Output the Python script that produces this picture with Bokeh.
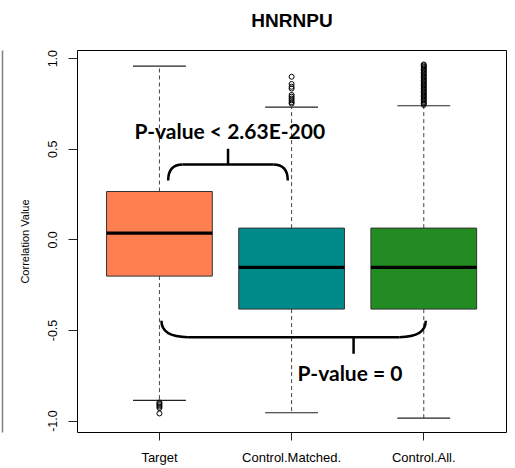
from bokeh.plotting import figure
from bokeh.models import Range1d, FixedTicker, Title, LinearAxis
from bokeh.core.properties import value
from bokeh.embed import file_html
from bokeh.resources import INLINE

# ---- data ----
title_text = "HNRNPU"
categories = ["Target", "Control.Matched.", "Control.All."]
box_colors = ["#FF7F50", "#008B8B", "#228B22"]
q1 = [-0.200, -0.382, -0.382]
medians = [0.037, -0.152, -0.152]
q3 = [0.267, 0.065, 0.065]
whisker_low = [-0.886, -0.954, -0.984]
whisker_high = [0.959, 0.732, 0.740]
outliers_target = [-0.897, -0.905, -0.912, -0.920, -0.928, -0.958]
outliers_matched = [0.900, 0.860, 0.845, 0.835, 0.800, 0.790, 0.780, 0.770, 0.760, 0.752]
outliers_all = [0.745, 0.752, 0.760, 0.768, 0.775, 0.783, 0.790, 0.798, 0.805,
                0.813, 0.820, 0.828, 0.835, 0.843, 0.850, 0.858, 0.865, 0.873,
                0.880, 0.888, 0.895, 0.903, 0.910, 0.918, 0.925, 0.933, 0.940,
                0.948, 0.955, 0.962, 0.968]
y_ticks = [-1.0, -0.5, 0.0, 0.5, 1.0]
y_tick_labels = ["-1.0", "-0.5", "0.0", "0.5", "1.0"]

# annotation texts and brace geometry (data units)
annot_text = ["P-value < 2.63E-200", "P-value = 0"]
annot_x = [1.532, 2.442]
annot_y = [0.603, -0.732]
# brace: x_left, x_right, y_end, y_bar, x_tip, y_tip, corner_dx
braces = [
    (1.066, 1.971, 0.328, 0.416, 1.519, 0.503, 0.11),
    (1.015, 3.015, -0.447, -0.537, 2.469, -0.629, 0.20),
]

xs = [i + 1 for i in range(len(categories))]
box_w = 0.8
cap_w = 0.4

p = figure(title=None, x_range=Range1d(0.38, 3.626), y_range=Range1d(-1.063, 1.045),
           frame_width=429, frame_height=382,
           min_border_left=77, min_border_right=9, min_border_top=50, min_border_bottom=36,
           output_backend="svg", toolbar_location=None)
p.background_fill_color = "white"
p.border_fill_color = "white"
p.outline_line_color = "black"
p.outline_line_width = 1
p.xgrid.visible = False
p.ygrid.visible = False

# spacer between frame and title, then the title itself
p.add_layout(Title(text=" ", text_font_size="2px", standoff=14), "above")
p.add_layout(Title(text=title_text, align="center", standoff=4,
                   text_font="Liberation Sans", text_font_size="19px",
                   text_font_style="bold", text_color="black"), "above")

# whiskers (dashed)
p.segment(x0=xs, x1=xs, y0=q3, y1=whisker_high, line_color="#444444", line_width=1, line_dash="4 3")
p.segment(x0=xs, x1=xs, y0=q1, y1=whisker_low, line_color="#444444", line_width=1, line_dash="4 3")
# caps
p.segment(x0=[x - cap_w / 2 for x in xs], x1=[x + cap_w / 2 for x in xs],
          y0=whisker_high, y1=whisker_high, line_color="#222222", line_width=1.2)
p.segment(x0=[x - cap_w / 2 for x in xs], x1=[x + cap_w / 2 for x in xs],
          y0=whisker_low, y1=whisker_low, line_color="#222222", line_width=1.2)
# boxes
p.vbar(x=xs, width=box_w, top=q3, bottom=q1, fill_color=box_colors,
       line_color="#333333", line_width=1)
# medians
p.segment(x0=[x - box_w / 2 for x in xs], x1=[x + box_w / 2 for x in xs],
          y0=medians, y1=medians, line_color="black", line_width=3.2)
# outliers
for x, outs in zip(xs, [outliers_target, outliers_matched, outliers_all]):
    p.scatter(x=[x] * len(outs), y=outs, marker="circle", size=5,
              fill_color=None, line_color="black", line_width=1)

# braces
for (xl, xr, ye, yb, xt, yt, cdx) in braces:
    p.quadratic(x0=[xl, xr], y0=[ye, ye], x1=[xl + cdx, xr - cdx], y1=[yb, yb],
                cx=[xl, xr], cy=[yb, yb], line_color="black", line_width=2.5)
    p.segment(x0=[xl + cdx], x1=[xr - cdx], y0=[yb], y1=[yb], line_color="black", line_width=2.5)
    p.segment(x0=[xt], x1=[xt], y0=[yb], y1=[yt], line_color="black", line_width=2.5)

p.text(x=annot_x, y=annot_y, text=annot_text, text_font=value("Lato"),
       text_font_style="bold", text_font_size="21px", text_align="center",
       text_baseline="alphabetic", text_color="black")

# axes
p.xaxis.ticker = FixedTicker(ticks=xs)
p.xaxis.major_label_overrides = {x: c for x, c in zip(xs, categories)}
p.xaxis.axis_line_color = None
p.xaxis.major_tick_in = 0
p.xaxis.major_tick_out = 8
p.xaxis.minor_tick_line_color = None
p.xaxis.major_tick_line_color = "#222222"
p.xaxis.major_label_text_font = "Liberation Sans"
p.xaxis.major_label_text_font_size = "13px"
p.xaxis.major_label_text_color = "black"
p.xaxis.major_label_standoff = 9

p.yaxis.ticker = FixedTicker(ticks=y_ticks)
p.yaxis.major_label_overrides = {t: l for t, l in zip(y_ticks, y_tick_labels)}
p.yaxis.axis_line_color = None
p.yaxis.major_tick_in = 0
p.yaxis.major_tick_out = 9
p.yaxis.minor_tick_line_color = None
p.yaxis.major_tick_line_color = "#222222"
p.yaxis.major_label_orientation = "vertical"
p.yaxis.major_label_text_font = "Liberation Sans"
p.yaxis.major_label_text_font_size = "12.5px"
p.yaxis.major_label_text_color = "black"
p.yaxis.major_label_standoff = 11
p.yaxis.axis_label = "Correlation Value"
p.yaxis.axis_label_text_font = "Liberation Sans"
p.yaxis.axis_label_text_font_size = "11px"
p.yaxis.axis_label_text_font_style = "normal"
p.yaxis.axis_label_text_color = "black"
p.yaxis.axis_label_standoff = 15

# edge of the neighbouring panel at the far left: spacer + bare axis line
p.add_layout(Title(text=" ", text_font_size="2px", standoff=9), "left")
edge = LinearAxis(ticker=FixedTicker(ticks=[]), axis_line_color="#808080", axis_line_width=1.5,
                  major_tick_line_color=None, minor_tick_line_color=None,
                  major_tick_in=0, major_tick_out=0, minor_tick_in=0, minor_tick_out=0,
                  major_label_standoff=0, major_label_text_font_size="0px")
p.add_layout(edge, "left")

open("out.html", "w").write(file_html(p, INLINE))
